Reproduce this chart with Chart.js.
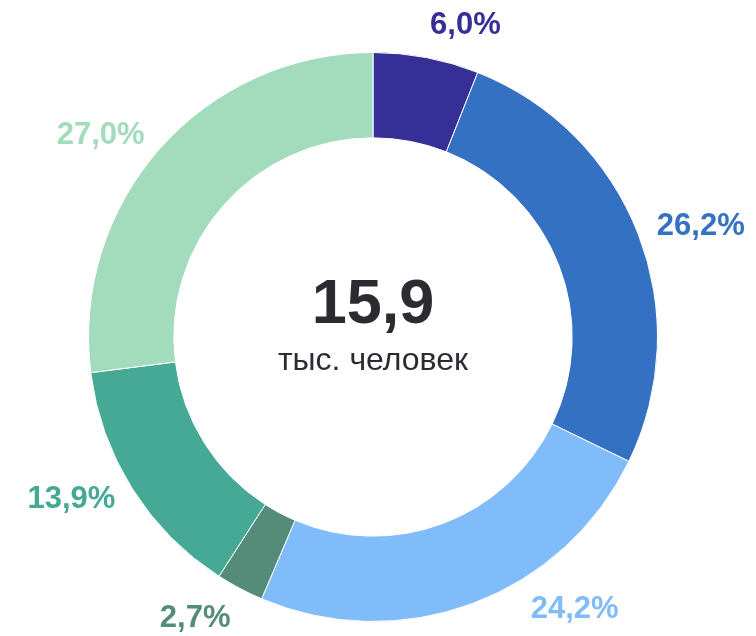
<!DOCTYPE html>
<html>
<head>
<meta charset="utf-8">
<script src="https://cdn.jsdelivr.net/npm/chart.js@4"></script>
<style>
html,body{margin:0;padding:0;background:#fff;}
#wrap{position:relative;width:756px;height:636px;}
</style>
</head>
<body>
<div id="wrap"><canvas id="c" width="756" height="636"></canvas></div>
<script>
const categories = ["Группа 1", "Группа 2", "Группа 3", "Группа 4", "Группа 5", "Группа 6"];
const values = [6.0, 26.2, 24.2, 2.7, 13.9, 27.0];
const valueLabels = ["6,0%", "26,2%", "24,2%", "2,7%", "13,9%", "27,0%"];
const colors = ["#352f97", "#3471c3", "#80bbfa", "#548c79", "#45a996", "#a2dcbc"];
const centerValue = "15,9";
const centerUnit = "тыс. человек";

const labelPlugin = {
  id: 'outerLabels',
  afterDatasetsDraw(chart) {
    const ctx = chart.ctx;
    const meta = chart.getDatasetMeta(0);
    const H = chart.height;
    const boxH = 24;
    ctx.save();
    ctx.font = "bold 31px 'Liberation Sans', Arial, sans-serif";
    ctx.textBaseline = 'middle';
    meta.data.forEach((arc, i) => {
      const p = arc.getProps(['x','y','startAngle','endAngle','outerRadius'], true);
      const mid = (p.startAngle + p.endAngle) / 2;
      const r = p.outerRadius + 20;
      const dx = Math.cos(mid), dy = Math.sin(mid);
      let ax = p.x + dx * r;
      let ay = p.y + dy * r;
      let cy;
      if (dy < -0.8) cy = ay - boxH / 2;
      else if (dy > 0.8) cy = ay + boxH / 2;
      else cy = ay;
      // label would leave the canvas: slide it along the circle up to the ring's bottom
      if (cy + boxH / 2 > H) {
        cy = p.y + p.outerRadius - boxH / 2;
        ay = cy - boxH / 2;
        const ddy = ay - p.y;
        const ddx = Math.sqrt(Math.max(0, r * r - ddy * ddy));
        ax = p.x + (dx >= 0 ? ddx : -ddx);
      }
      ctx.textAlign = dx >= 0 ? 'left' : 'right';
      ctx.fillStyle = colors[i];
      ctx.fillText(valueLabels[i], ax, cy);
    });
    const a = meta.data[0];
    ctx.textAlign = 'center';
    ctx.fillStyle = '#2a2c31';
    ctx.font = "bold 63px 'Liberation Sans', Arial, sans-serif";
    ctx.textBaseline = 'alphabetic';
    ctx.fillText(centerValue, a.x, a.y - 14);
    ctx.font = "32px 'Liberation Sans', Arial, sans-serif";
    ctx.fillText(centerUnit, a.x, a.y + 33);
    ctx.restore();
  }
};

new Chart(document.getElementById('c'), {
  type: 'doughnut',
  data: {
    labels: categories,
    datasets: [{
      data: values,
      backgroundColor: colors,
      borderColor: '#ffffff',
      borderWidth: 1
    }]
  },
  options: {
    responsive: false,
    animation: false,
    cutout: '70%',
    layout: { padding: { top: 52, bottom: 14, left: 88, right: 98 } },
    plugins: { legend: { display: false }, tooltip: { enabled: false } }
  },
  plugins: [labelPlugin]
});
</script>
</body>
</html>
